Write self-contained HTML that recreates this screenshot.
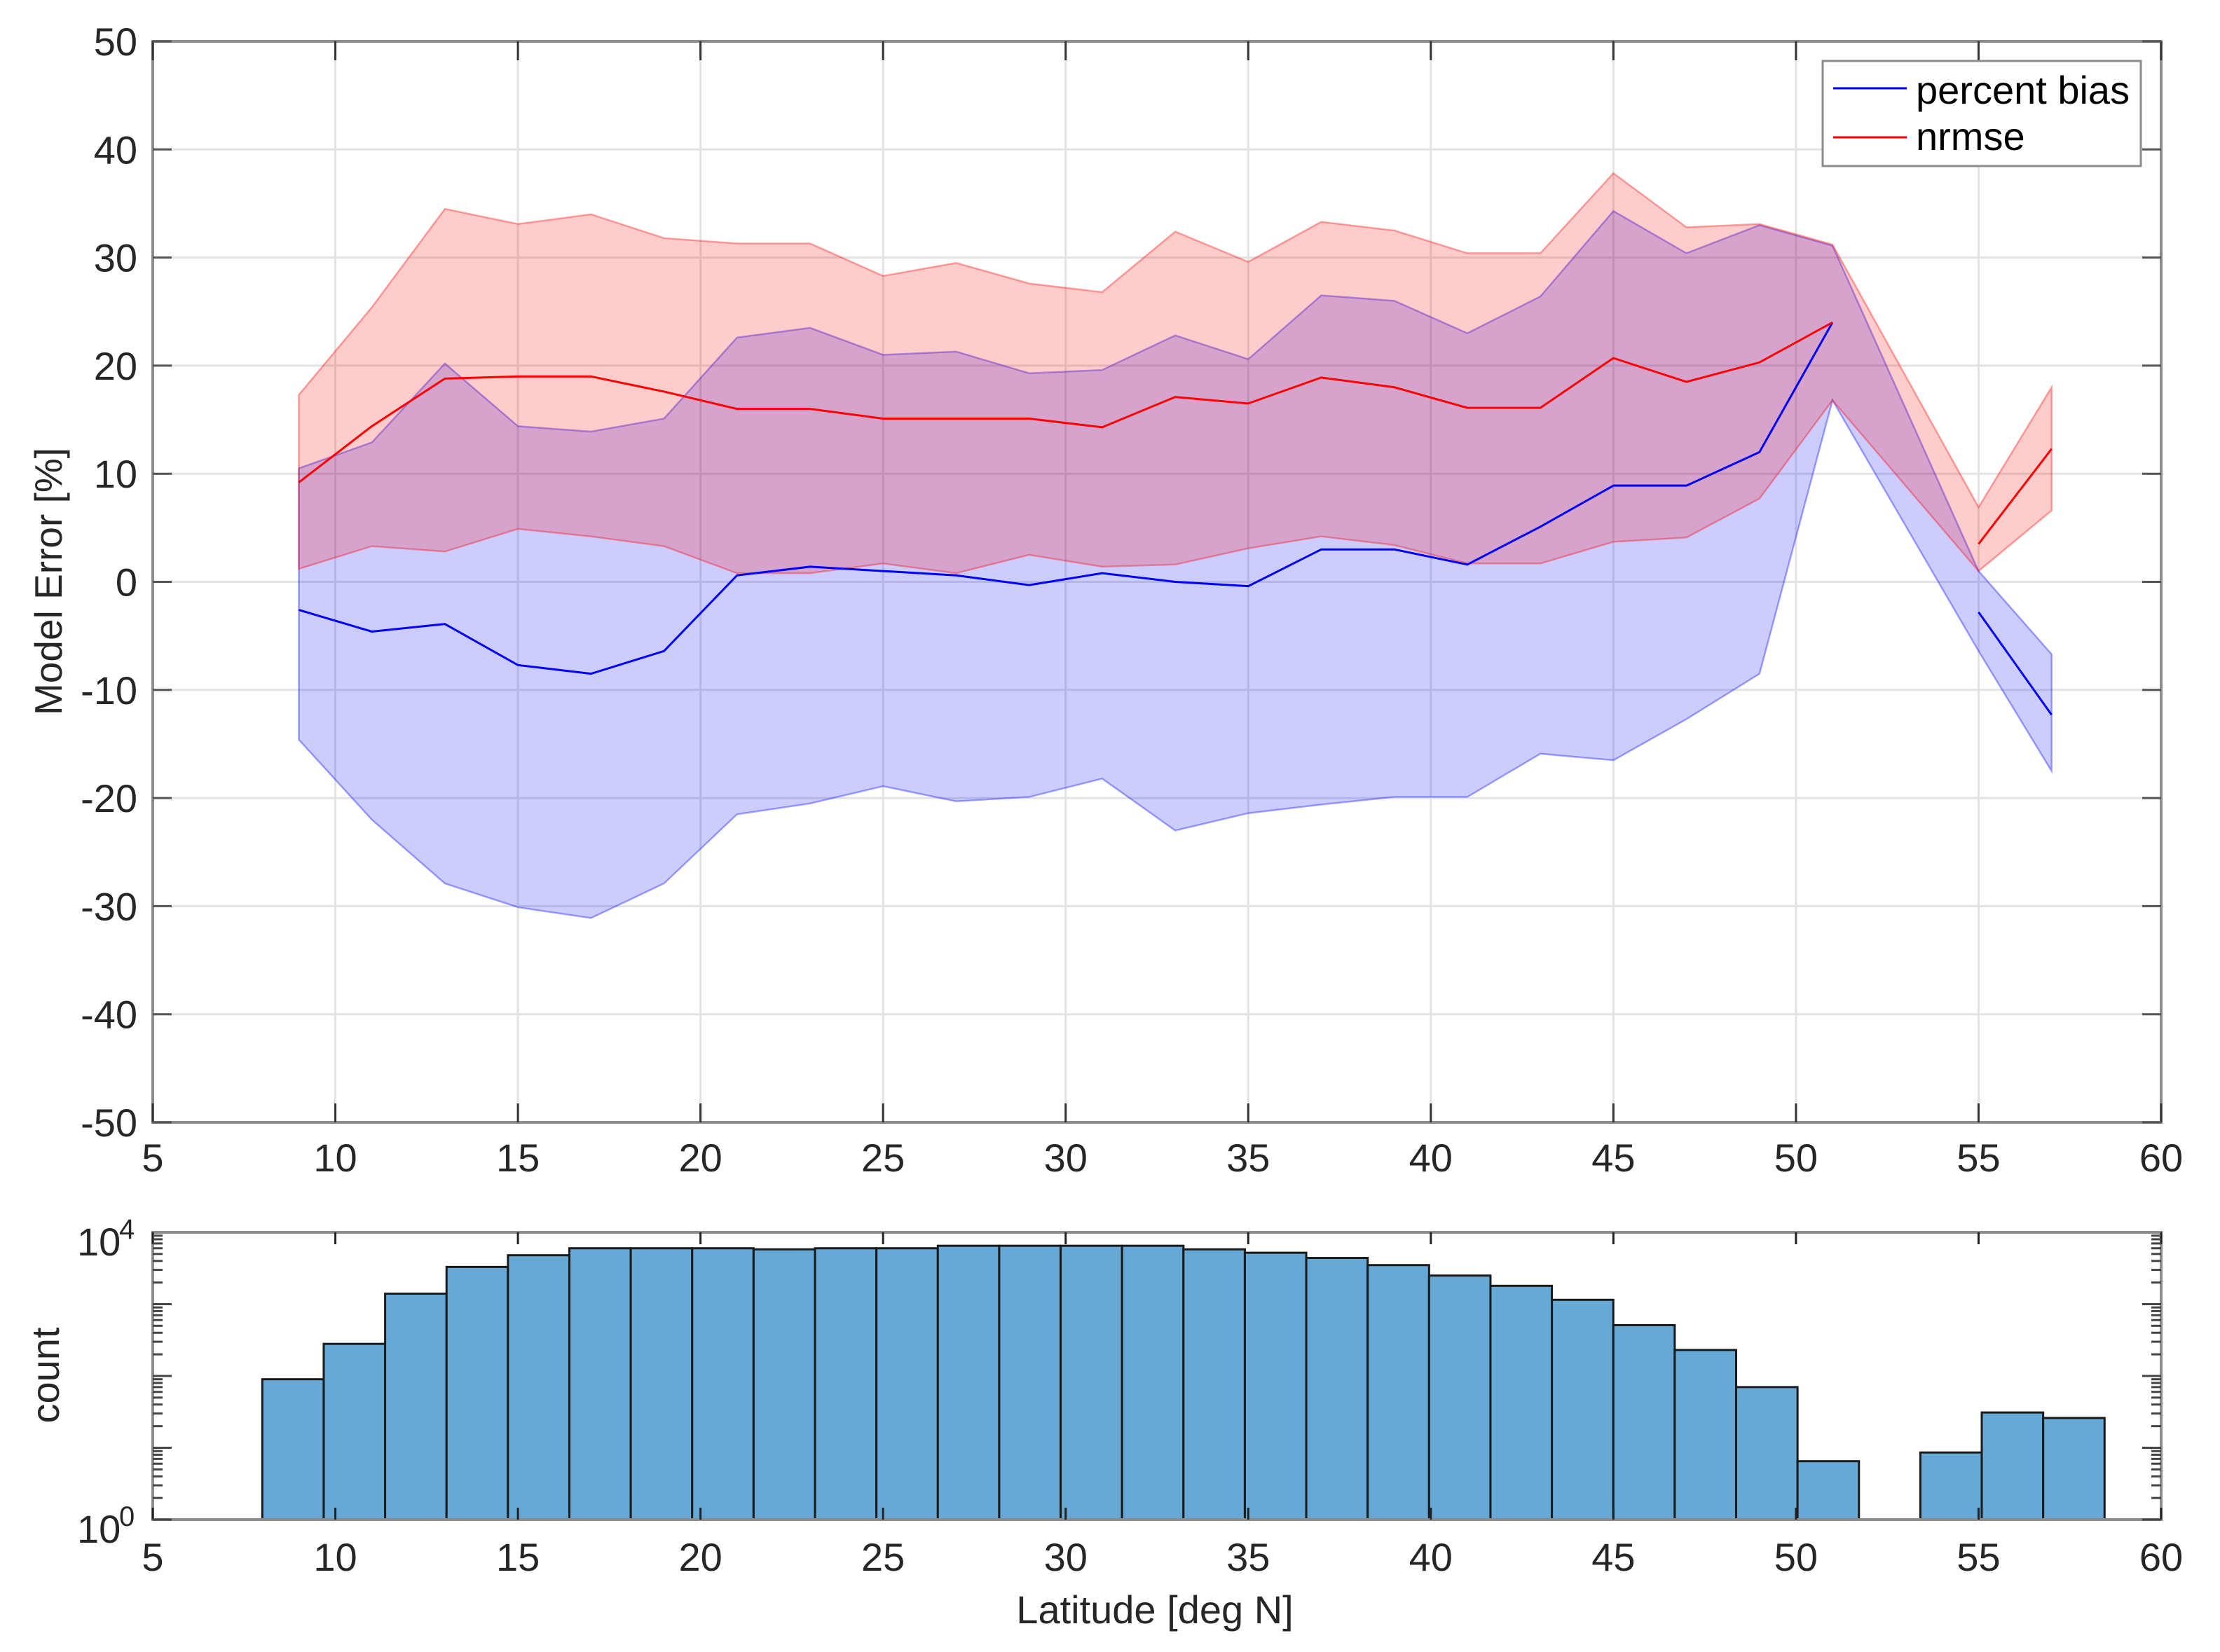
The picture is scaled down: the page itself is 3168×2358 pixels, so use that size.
<!DOCTYPE html>
<html><head><meta charset="utf-8"><style>
html,body{margin:0;padding:0;background:#fff;}
svg{display:block;font-family:"Liberation Sans",Arial,sans-serif;}
</style></head><body>
<svg id="chart" width="3168" height="2358" viewBox="0 0 3168 2358" xmlns="http://www.w3.org/2000/svg"></svg>
<script>
const lats = [9,11,13,15,17,19,21,23,25,27,29,31,33,35,37,39,41,43,45,47,49,51,null,55,57];
const biasVals = [-2.6,-4.6,-3.9,-7.7,-8.5,-6.4,0.6,1.4,1.0,0.6,-0.3,0.8,0,-0.4,3.0,3.0,1.6,5.1,8.9,8.9,12.0,24.0,null,-2.8,-12.3];
const biasUpper = [10.5,12.9,20.2,14.4,13.9,15.1,22.6,23.5,21.0,21.3,19.3,19.6,22.8,20.6,26.5,26.0,23.0,26.4,34.3,30.4,33.0,31.1,null,1.0,-6.7];
const biasLower = [-14.6,-22.0,-27.9,-30.1,-31.1,-27.9,-21.5,-20.5,-18.9,-20.3,-19.9,-18.2,-23.0,-21.4,-20.6,-19.9,-19.9,-15.9,-16.5,-12.7,-8.5,16.8,null,-6.4,-17.5];
const nrmseVals = [9.2,14.4,18.8,19.0,19.0,17.6,16.0,16.0,15.1,15.1,15.1,14.3,17.1,16.5,18.9,18.0,16.1,16.1,20.7,18.5,20.3,24.0,null,3.5,12.3];
const nrmseUpper = [17.3,25.4,34.5,33.1,34.0,31.8,31.3,31.3,28.3,29.5,27.6,26.8,32.4,29.6,33.3,32.5,30.4,30.4,37.8,32.8,33.1,31.2,null,6.9,18.0];
const nrmseLower = [1.2,3.3,2.8,4.9,4.2,3.3,0.8,0.8,1.7,0.8,2.5,1.4,1.6,3.1,4.2,3.4,1.7,1.7,3.7,4.1,7.7,16.8,null,1.0,6.6];
const xTicks = [5,10,15,20,25,30,35,40,45,50,55,60];
const yTicks = [50,40,30,20,10,0,-10,-20,-30,-40,-50];
const binStart = 8, binWidth = 1.6817;
const counts = [90,280,1400,3300,4800,6000,6000,6000,5800,6000,6000,6500,6500,6500,6500,5800,5200,4400,3500,2500,1800,1150,510,230,70,6.5,0,8.6,31,26];

const NS="http://www.w3.org/2000/svg";
const svg=document.getElementById('chart');
function el(tag,attrs,parent){const e=document.createElementNS(NS,tag);for(const k in attrs)e.setAttribute(k,attrs[k]);(parent||svg).appendChild(e);return e;}
const X0=218,X1=3084;
const xs=v=>X0+(v-5)*(X1-X0)/55;
const TY0=59,TY1=1602;
const ys=v=>TY0+(50-v)*(TY1-TY0)/100;
const BY0=1759,BY1=2169;
const yl=v=>BY1-Math.log10(v)*(BY1-BY0)/4;

const gTop=el('g',{});


xTicks.forEach(t=>{const l=el('line',{x1:xs(t),x2:xs(t),y1:TY0,y2:TY1,stroke:'#e3e3e3','stroke-width':3},gTop);});
yTicks.forEach(t=>{const l=el('line',{x1:X0,x2:X1,y1:ys(t),y2:ys(t),stroke:'#e3e3e3','stroke-width':3},gTop);});

function segments(){const segs=[];let cur=[];lats.forEach((x,i)=>{if(x===null){if(cur.length)segs.push(cur);cur=[];}else cur.push(i);});if(cur.length)segs.push(cur);return segs;}
function band(up,lo,fill,stroke,name){
  const idx=[];lats.forEach((x,i)=>{if(x!==null&&up[i]!==null)idx.push(i);});
  let d=idx.map((i,k)=>(k?'L':'M')+xs(lats[i])+','+ys(up[i])).join('');
  d+=idx.slice().reverse().map(i=>'L'+xs(lats[i])+','+ys(lo[i])).join('')+'Z';
  const p=el('path',{d:d,fill:fill,'fill-opacity':0.2,stroke:stroke,'stroke-width':2.5,'stroke-opacity':0.35});
  
  
}
function line(vals,color,name){
  segments().forEach(seg=>{
    const d=seg.map((i,k)=>(k?'L':'M')+xs(lats[i])+','+ys(vals[i])).join('');
    const p=el('path',{d:d,fill:'none',stroke:color,'stroke-width':3});
    
    
  });
}
band(biasUpper,biasLower,'#0000ff','#0000ff','bias-band');
band(nrmseUpper,nrmseLower,'#ff0000','#ff0000','nrmse-band');
line(biasVals,'#0000ff','bias-line');
line(nrmseVals,'#ff0000','nrmse-line');

function frame(y0,y1,name){
  const r=el('rect',{x:X0,y:y0,width:X1-X0,height:y1-y0,fill:'none',stroke:'#8c8c8c','stroke-width':4});
  
  
}
frame(TY0,TY1,'top-axes-frame');
xTicks.forEach(t=>{
  el('line',{x1:xs(t),x2:xs(t),y1:TY1,y2:TY1-27,stroke:'#333','stroke-width':3});
  el('line',{x1:xs(t),x2:xs(t),y1:TY0,y2:TY0+27,stroke:'#333','stroke-width':3});
  const tx=el('text',{x:xs(t),y:1672,'font-size':56,'text-anchor':'middle',fill:'#262626'});tx.textContent=t;
  
  
});
yTicks.forEach(t=>{
  el('line',{x1:X0,x2:X0+27,y1:ys(t),y2:ys(t),stroke:'#555','stroke-width':3});
  el('line',{x1:X1,x2:X1-27,y1:ys(t),y2:ys(t),stroke:'#555','stroke-width':3});
  const tx=el('text',{x:196,y:ys(t)+20,'font-size':56,'text-anchor':'end',fill:'#262626'});tx.textContent=t;
  
  
});
const yt=el('text',{x:0,y:0,'font-size':55,'text-anchor':'middle',fill:'#262626',transform:'translate(88,830) rotate(-90)'});
yt.textContent='Model Error [%]';



const lg=el('g',{});


el('rect',{x:2601,y:87,width:454,height:150,fill:'#fff',stroke:'#8c8c8c','stroke-width':3},lg);
el('line',{x1:2616,x2:2721,y1:126,y2:126,stroke:'#0000ff','stroke-width':3},lg);
el('line',{x1:2616,x2:2721,y1:196,y2:196,stroke:'#ff0000','stroke-width':3},lg);
const l1=el('text',{x:2734,y:148,'font-size':56,fill:'#000'},lg);l1.textContent='percent bias';


const l2=el('text',{x:2734,y:214,'font-size':56,fill:'#000'},lg);l2.textContent='nrmse';



counts.forEach((c,i)=>{
  if(c<=0)return;
  const xa=xs(binStart+i*binWidth),xb=xs(binStart+(i+1)*binWidth);
  const r=el('rect',{x:xa,y:yl(c),width:xb-xa,height:BY1-yl(c),fill:'#66a9d6',stroke:'#1a1a1a','stroke-width':3});
  
  
});
frame(BY0,BY1,'bottom-axes-frame');
xTicks.forEach(t=>{
  el('line',{x1:xs(t),x2:xs(t),y1:BY1,y2:BY1-17,stroke:'#222','stroke-width':3});
  el('line',{x1:xs(t),x2:xs(t),y1:BY0,y2:BY0+17,stroke:'#222','stroke-width':3});
  const tx=el('text',{x:xs(t),y:2242,'font-size':56,'text-anchor':'middle',fill:'#262626'});tx.textContent=t;
  
  
});
for(let d=0;d<4;d++){for(let m=1;m<10;m++){const v=m*Math.pow(10,d);const y=yl(v);const len=m===1?27:14;
  el('line',{x1:X0,x2:X0+len,y1:y,y2:y,stroke:'#444','stroke-width':3});
  el('line',{x1:X1,x2:X1-len,y1:y,y2:y,stroke:'#444','stroke-width':3});}}
[[4,1792,1768],[0,2202,2178]].forEach(([p,by,sy])=>{
  const t=el('text',{x:110,y:by,'font-size':56,fill:'#262626'});t.textContent='10';
  
  
  const s=el('text',{x:170,y:sy,'font-size':40,fill:'#262626'});s.textContent=p;
  
  
});
const ct=el('text',{x:0,y:0,'font-size':56,'text-anchor':'middle',fill:'#262626',transform:'translate(84,1963) rotate(-90)'});
ct.textContent='count';


const xt=el('text',{x:1648,y:2317,'font-size':56,'text-anchor':'middle',fill:'#262626'});
xt.textContent='Latitude [deg N]';


</script>
</body></html>
